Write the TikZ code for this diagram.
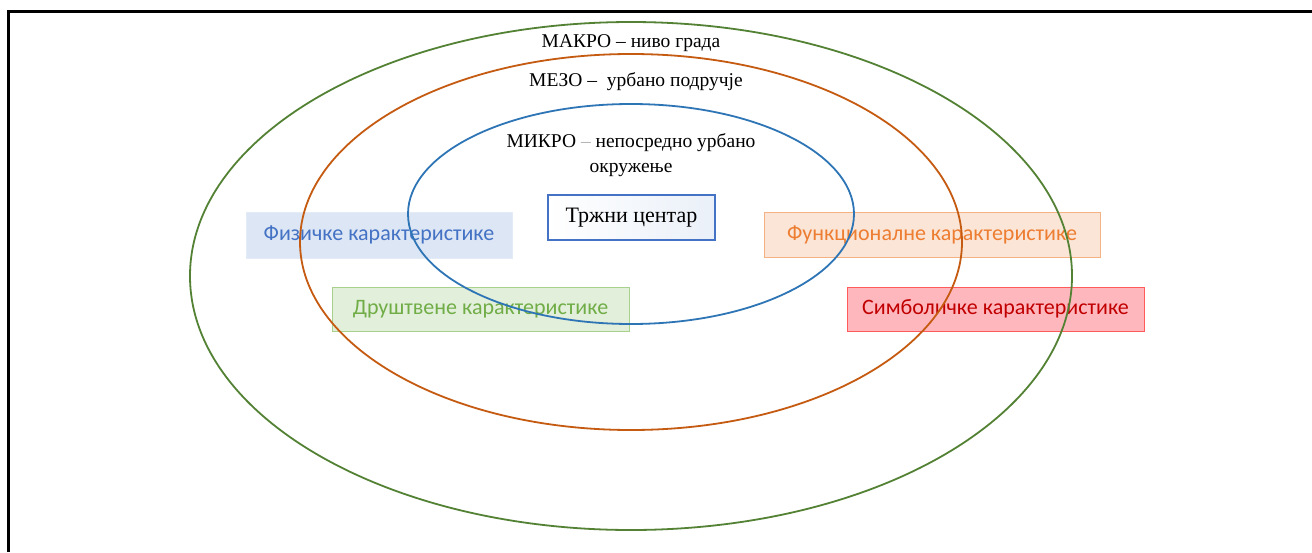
\documentclass[tikz,border=0pt]{standalone}
\usepackage{fontspec}
\setmainfont{Liberation Serif}
\newfontfamily\lblfont{Carlito}
\definecolor{cgreen}{HTML}{548235}
\definecolor{corange}{HTML}{C55A11}
\definecolor{cblue}{HTML}{2E75B6}
\definecolor{fblue}{HTML}{DCE6F4}
\definecolor{tblue}{HTML}{4472C4}
\definecolor{fgreen}{HTML}{E2EFDA}
\definecolor{bgreen}{HTML}{A9D18E}
\definecolor{tgreen}{HTML}{70AD47}
\definecolor{forange}{HTML}{FBE5D6}
\definecolor{borange}{HTML}{F4B183}
\definecolor{torange}{HTML}{ED7D31}
\definecolor{fred}{HTML}{FFB7BE}
\definecolor{bred}{HTML}{FF5B5B}
\definecolor{tred}{HTML}{C00000}
\begin{document}
\begin{tikzpicture}[x=1pt,y=-1pt,
  lbl/.style={inner sep=0pt, font=\lblfont\fontsize{22}{26}\selectfont, line width=1pt},
  ring/.style={line width=1.8pt},
  ttl/.style={font=\fontsize{19.5}{25}\selectfont, align=center, inner sep=0pt}]
\useasboundingbox (0,0) rectangle (1312,552);
\fill[white] (0,0) rectangle (1312,552);
\draw[line width=3pt] (8,552) coordinate (fb) -- (8,11) coordinate (fc) -- (1312,11) coordinate (fr);
% boxes
\node[lbl, draw=fblue!80, fill=fblue, text=tblue, minimum width=266pt, minimum height=46pt] (fiz) at (379,235) {Физичке карактеристике};
\node[lbl, draw=bgreen, fill=fgreen, text=tgreen, minimum width=297pt, minimum height=44pt] (dru) at (480.5,309) {Друштвене карактеристике};
\node[lbl, draw=borange, fill=forange, text=torange, minimum width=336pt, minimum height=45pt] (fun) at (932,234.5) {Функционалне карактеристике};
\node[lbl, draw=bred, fill=fred, text=tred, minimum width=297pt, minimum height=44pt] (sim) at (995.5,309) {Симболичке карактеристике};
\node[draw=tblue, line width=1.3pt, left color=white, right color=fblue!60, inner sep=0pt, minimum width=167pt, minimum height=45pt, font=\fontsize{22}{26}\selectfont] (trz) at (631.5,217.5) {Тржни центар};
% rings
\draw[ring, cgreen] (631,276) ellipse [x radius=441, y radius=254];
\draw[ring, corange] (631,242) ellipse [x radius=331, y radius=188];
\draw[ring, cblue] (631,214) ellipse [x radius=223, y radius=110];
% titles
\node[ttl] (makro) at (631,43) {МАКРО – ниво града};
\node[ttl] (mezo) at (636,82) {МЕЗО –\ \ урбано подручје};
\node[ttl] (mikro) at (631,155) {МИКРО \textcolor{gray!60}{–} непосредно урбано\\окружење};
\end{tikzpicture}
\end{document}
